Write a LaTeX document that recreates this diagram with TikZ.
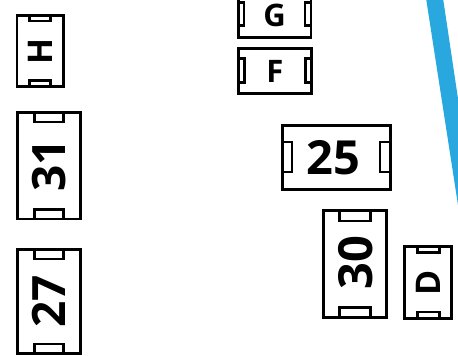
\documentclass[tikz,border=0pt]{standalone}
\usepackage{fontspec}
\setmainfont{Open Sans}
\usetikzlibrary{arrows.meta}

\definecolor{wire}{RGB}{41,168,224}

\begin{document}
\begin{tikzpicture}[x=1pt, y=-1pt, line width=2.6pt,
    part/.style={draw=black, fill=white},
    pad/.style={draw=black, fill=white, line width=2.2pt},
    lbl/.style={font=\bfseries, inner sep=0pt}]
                \useasboundingbox (0,0) rectangle (458,356);
                
                % Dải màu xanh bên phải
                \fill[wire] (426,-2) -- (443,-2) -- (460,112) -- (460,218) -- cycle;
                
                % --- CỘT BÊN TRÁI ---
                % H
                \draw[part] (17,15.5) rectangle (63.5,86.5);
                \draw[pad] (29.5,15.5) rectangle (50.5,21);
                \draw[pad] (29.5,80.5) rectangle (50.5,86.5);
                \node[lbl, rotate=90, font=\bfseries\fontsize{34}{34}\selectfont] (H) at (40.5,51) {H};
                
                % 31
                \draw[part] (17.5,112.5) rectangle (80.5,219);
                \draw[pad] (34.5,112.5) rectangle (63.5,122);
                \draw[pad] (34.5,209.5) rectangle (63.5,219);
                \node[lbl, rotate=90, font=\bfseries\fontsize{46}{46}\selectfont] (n31) at (49,165.5) {31};
                
                % 27
                \draw[part] (17.5,249.5) rectangle (80.5,353.5);
                \draw[pad] (34.5,249.5) rectangle (63.5,259);
                \draw[pad] (34.5,344) rectangle (63.5,353.5);
                \node[lbl, rotate=90, font=\bfseries\fontsize{46}{46}\selectfont] (n27) at (49,301.5) {27};
                
                % --- G VÀ F ---
                \draw[part] (238.5,-9) rectangle (311,37.5);
                \draw[pad] (238.5,2.5) rectangle (244,25.5);
                \draw[pad] (305,2.5) rectangle (311,25.5);
                \node[lbl, font=\bfseries\fontsize{31}{31}\selectfont] (G) at (274.5,15) {G};
                
                \draw[part] (238.5,48.5) rectangle (311.5,93.5);
                \draw[pad] (238.5,58.5) rectangle (244.5,82.5);
                \draw[pad] (305.5,58.5) rectangle (311.5,82.5);
                \node[lbl, font=\bfseries\fontsize{31}{31}\selectfont] (F) at (275,71) {F};
                
                % --- 25, 30 VÀ D ---
                \draw[part] (282.5,125.5) rectangle (390.5,189.5);
                \draw[pad] (282.5,142) rectangle (292,172);
                \draw[pad] (380,142) rectangle (390.5,172);
                \node[lbl, font=\bfseries\fontsize{47}{47}\selectfont] (n25) at (333.5,157.5) {25};
                
                \draw[part] (323.5,210.5) rectangle (386.5,317.5);
                \draw[pad] (339.5,210.5) rectangle (370.5,221);
                \draw[pad] (339.5,307.5) rectangle (370.5,317.5);
                \node[lbl, rotate=90, font=\bfseries\fontsize{47}{47}\selectfont] (n30) at (356,262.5) {30};
                
                \draw[part] (404.5,246.5) rectangle (451.5,318.5);
                \draw[pad] (417.5,246.5) rectangle (439.5,252.5);
                \draw[pad] (417.5,312) rectangle (439.5,318.5);
                \node[lbl, rotate=90, font=\bfseries\fontsize{34}{34}\selectfont] (D) at (428.5,283) {D};
                
            \end{tikzpicture}
\end{document}
